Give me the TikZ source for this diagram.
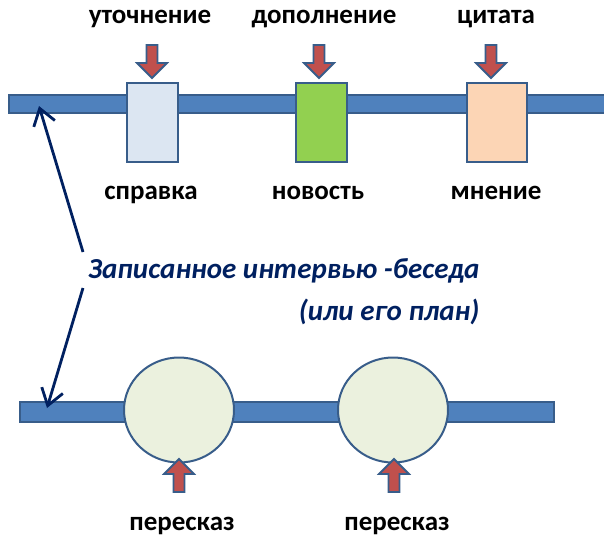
\documentclass[tikz,border=0pt]{standalone}
\usepackage{fontspec}
\setmainfont{Carlito}
\usepackage{tikz}
\usetikzlibrary{shapes,arrows.meta,calc}

\definecolor{barblue}{HTML}{4F81BD}
\definecolor{edgeblue}{HTML}{385D8A}
\definecolor{navy}{HTML}{002060}
\definecolor{paleblue}{HTML}{DCE6F2}
\definecolor{grassgreen}{HTML}{92D050}
\definecolor{peach}{HTML}{FCD5B5}
\definecolor{palegreen}{HTML}{EBF1DE}
\definecolor{brick}{HTML}{C0504D}

\begin{document}
\begin{tikzpicture}
[x = 1pt, y = -1pt]
\tikzset{
	bar node/.style = {rectangle, draw = edgeblue, fill = barblue, line width = 2pt, inner sep = 0},
	box node/.style = {rectangle, draw = edgeblue, line width = 2pt, inner sep = 0, minimum width = 51, minimum height = 79},
	ball node/.style = {ellipse, draw = edgeblue, fill = palegreen, line width = 2pt, inner sep = 0, minimum width = 110, minimum height = 105},
	word node/.style = {inner sep = 0, anchor = base, font = \fontsize{27}{32}\selectfont\bfseries},
	talk node/.style = {inner sep = 0, anchor = base west, align = right, text = navy, font = \fontsize{29}{42}\selectfont\bfseries\itshape},
	talk arrow/.style = {draw = navy, line width = 2.8pt, -{Straight Barb[length = 16pt, width = 22pt]}},
	pics/push/.style = {code = {
		\draw[fill = brick, draw = edgeblue, line width = 1.8pt, line join = miter]
			(0,0) -- (-15,-15) -- (-5.5,-15) -- (-5.5,-33) -- (5.5,-33) -- (5.5,-15) -- (15,-15) -- cycle;
	}},
}
\useasboundingbox (0,0) rectangle (604,536);

% upper line
\node(top)[bar node, minimum width = 600, minimum height = 18] at (309,104) {};
\node(b1)[box node, fill = paleblue] at (152,122) {};
\node(b2)[box node, fill = grassgreen] at (321,122) {};
\node(b3)[box node, fill = peach, minimum width = 60] at (497,122) {};
\pic at (152,78) {push};
\pic at (319,78) {push};
\pic at (491,78) {push};
\node(w1)[word node] at (150,23) {уточнение};
\node(w2)[word node] at (324,23) {дополнение};
\node(w3)[word node] at (496,23) {цитата};
\node(s1)[word node] at (151,199) {справка};
\node(s2)[word node] at (318,199) {новость};
\node(s3)[word node] at (496,199) {мнение};

% lower line
\node(bot)[bar node, minimum width = 534, minimum height = 20] at (287,412) {};
\node(c1)[ball node] at (179,410) {};
\node(c2)[ball node] at (393,410) {};
\pic[rotate = 180] at (179,459) {push};
\pic[rotate = 180] at (394,459) {push};
\node(r1)[word node] at (182,530) {пересказ};
\node(r2)[word node] at (397,530) {пересказ};

% interview
\node(talk)[talk node] at (88,320) {Записанное интервью -беседа\\(или его план)};
\coordinate(up) at (39,106);
\coordinate(down) at (47,408);
\draw[talk arrow] ($(talk.base west)+(-5,-68)$) -- (up);
\draw[talk arrow] ($(talk.base west)+(-5,-32)$) -- (down);

\end{tikzpicture}
\end{document}
